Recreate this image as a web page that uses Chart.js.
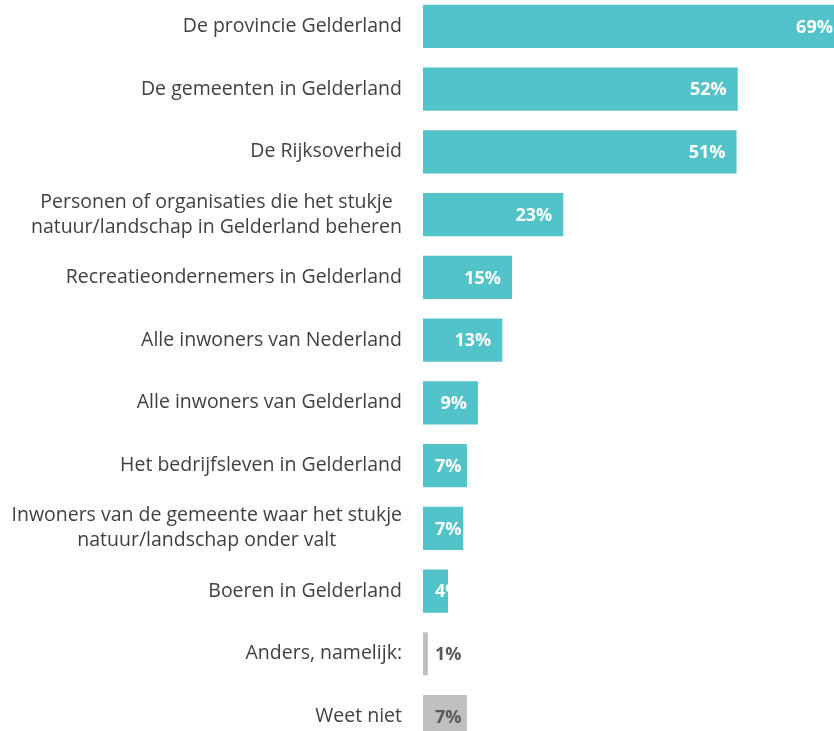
<!DOCTYPE html>
<html lang="nl">
<head>
    <meta charset="UTF-8">
    <title>Verantwoordelijkheid natuur en landschap</title>
    <script src="https://cdnjs.cloudflare.com/ajax/libs/Chart.js/4.4.1/chart.umd.min.js"></script>
    <style>
        html, body { margin: 0; padding: 0; background: #fff; overflow: hidden; }
        #frame { position: relative; width: 834px; height: 731px; overflow: hidden; }
        #chart { position: absolute; left: 0; top: -5px; }
    </style>
</head>
<body>
    <div id="frame">
        <canvas id="chart" width="850" height="753"></canvas>
    </div>

    <script>
        // Categories (multi-line labels as arrays)
        const categories = [
            'De provincie Gelderland',
            'De gemeenten in Gelderland',
            'De Rijksoverheid',
            ['Personen of organisaties die het stukje', 'natuur/landschap in Gelderland beheren'],
            'Recreatieondernemers in Gelderland',
            'Alle inwoners van Nederland',
            'Alle inwoners van Gelderland',
            'Het bedrijfsleven in Gelderland',
            ['Inwoners van de gemeente waar het stukje', 'natuur/landschap onder valt'],
            'Boeren in Gelderland',
            'Anders, namelijk:',
            'Weet niet'
        ];

        // Percentages
        const values = [69, 51.6, 51.4, 23, 14.6, 13, 9, 7.2, 6.6, 4.1, 0.8, 7.2];

        // Printed labels
        const valueLabels = ['69%', '52%', '51%', '23%', '15%', '13%', '9%', '7%', '7%', '4%', '1%', '7%'];

        const TEAL = '#53c3ca';
        const GREY = '#bfbfbf';
        const barColors = categories.map((c, i) => i >= 10 ? GREY : TEAL);
        const labelColors = categories.map((c, i) => i >= 10 ? '#595959' : '#ffffff');

        // Category labels: block right-aligned to the axis, lines centred within the block
        const categoryLabelPlugin = {
            id: 'categoryLabels',
            afterDraw(chart) {
                const ctx = chart.ctx;
                const yScale = chart.scales.y;
                const right = chart.chartArea.left - 21;
                const lineGap = 25;
                ctx.save();
                ctx.font = '19.5px "Open Sans"';
                ctx.fillStyle = '#404040';
                ctx.textBaseline = 'middle';
                ctx.textAlign = 'center';
                categories.forEach((label, i) => {
                    const lines = Array.isArray(label) ? label : [label];
                    const blockW = Math.max(...lines.map(l => ctx.measureText(l).width));
                    const cx = right - blockW / 2;
                    const cy = yScale.getPixelForTick(i);
                    const y0 = cy - (lines.length - 1) * lineGap / 2;
                    lines.forEach((l, k) => ctx.fillText(l, cx, y0 + k * lineGap));
                });
                ctx.restore();
            }
        };

        // Draws the percentage at the inner end of each bar
        const valueLabelPlugin = {
            id: 'valueLabels',
            afterDatasetsDraw(chart) {
                const ctx = chart.ctx;
                const meta = chart.getDatasetMeta(0);
                const minX = chart.chartArea.left + 12;
                ctx.save();
                ctx.font = 'bold 18px "Open Sans"';
                ctx.textBaseline = 'middle';
                ctx.textAlign = 'left';
                meta.data.forEach((bar, i) => {
                    const text = valueLabels[i];
                    const w = ctx.measureText(text).width;
                    const x = Math.max(bar.x - 11 - w, minX);
                    ctx.fillStyle = labelColors[i];
                    ctx.fillText(text, x, bar.y + 1);
                });
                ctx.restore();
            }
        };

        new Chart(document.getElementById('chart'), {
            type: 'bar',
            data: {
                labels: categories,
                datasets: [{
                    data: values,
                    backgroundColor: barColors,
                    borderWidth: 0,
                    barPercentage: 0.686,
                    categoryPercentage: 1
                }]
            },
            options: {
                indexAxis: 'y',
                responsive: false,
                animation: false,
                layout: { padding: 0 },
                plugins: {
                    legend: { display: false },
                    tooltip: { enabled: false }
                },
                scales: {
                    x: {
                        display: false,
                        min: 0,
                        max: 70
                    },
                    y: {
                        grid: { display: false, drawTicks: false },
                        border: { display: false },
                        ticks: { display: false },
                        afterFit(scale) {
                            scale.width = 423;
                            scale.paddingTop = 0;
                            scale.paddingBottom = 0;
                        }
                    }
                }
            },
            plugins: [valueLabelPlugin, categoryLabelPlugin]
        });
    </script>
</body>
</html>
